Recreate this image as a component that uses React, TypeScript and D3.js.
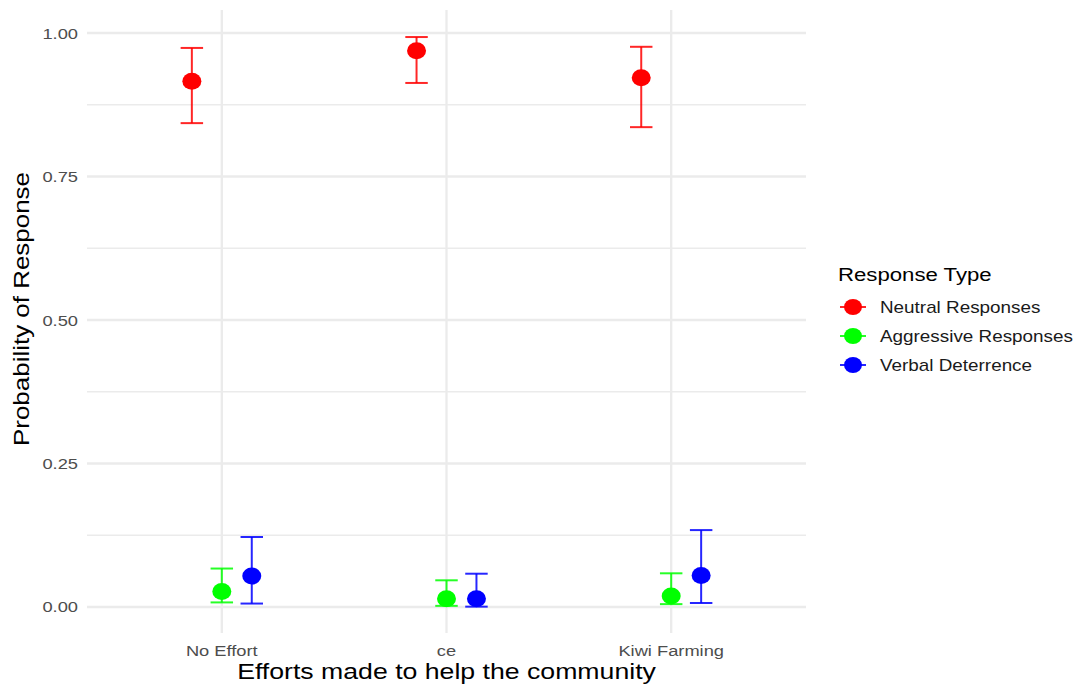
import * as d3 from "d3";

const categories = ["No Effort", "ce", "Kiwi Farming"];
const seriesNames = ["Neutral Responses", "Aggressive Responses", "Verbal Deterrence"];
const seriesColors = ["#ff0000", "#00ff00", "#0000ff"];

// estimated probability, lower and upper bound per category
const neutralMean = [0.916, 0.969, 0.922];
const neutralLow = [0.843, 0.913, 0.836];
const neutralHigh = [0.974, 0.993, 0.976];

const aggressiveMean = [0.027, 0.0145, 0.019];
const aggressiveLow = [0.008, 0.002, 0.005];
const aggressiveHigh = [0.067, 0.0465, 0.0587];

const verbalMean = [0.054, 0.0145, 0.055];
const verbalLow = [0.006, 0.0006, 0.007];
const verbalHigh = [0.122, 0.058, 0.134];

const yTicks = [0, 0.25, 0.5, 0.75, 1];
const yMinorTicks = [0.125, 0.375, 0.625, 0.875];

const W = 1076;
const H = 689;
const FONT = "'Liberation Sans', Arial, Helvetica, sans-serif";
const SX = 1.18; // the source font runs wide

const series = [
  { mean: neutralMean, low: neutralLow, high: neutralHigh },
  { mean: aggressiveMean, low: aggressiveLow, high: aggressiveHigh },
  { mean: verbalMean, low: verbalLow, high: verbalHigh },
];

export default function App() {
  const panel = { left: 87, right: 806, top: 10, bottom: 633 };

  const x = d3
    .scalePoint<string>()
    .domain(categories)
    .range([panel.left, panel.right])
    .padding(0.6);
  const step = x.step();
  const dodge = d3
    .scalePoint<string>()
    .domain(seriesNames)
    .range([-0.4 * step / 3, 0.4 * step / 3]);
  const y = d3.scaleLinear().domain([-0.0453, 1.0401]).range([panel.bottom, panel.top]);
  const capHalf = 0.05 * step;
  const fmt = d3.format(".2f");

  const stretched = (tx: number, ty: number) => `translate(${tx},${ty}) scale(${SX},1)`;

  return (
    <svg
      width={W}
      height={H}
      style={{ position: "absolute", left: 0, top: 0, display: "block", background: "#fff" }}
      fontFamily={FONT}
    >
      {/* grid */}
      {yMinorTicks.map((t) => (
        <line key={"mi" + t} x1={panel.left} x2={panel.right} y1={y(t)} y2={y(t)} stroke="#ebebeb" strokeWidth={1.3} />
      ))}
      {yTicks.map((t) => (
        <line key={"ma" + t} x1={panel.left} x2={panel.right} y1={y(t)} y2={y(t)} stroke="#ebebeb" strokeWidth={2.3} />
      ))}
      {categories.map((c) => (
        <line key={"v" + c} x1={x(c)} x2={x(c)} y1={panel.top} y2={panel.bottom} stroke="#ebebeb" strokeWidth={2.3} />
      ))}

      {/* y tick labels */}
      {yTicks.map((t) => (
        <text
          key={"yt" + t}
          transform={stretched(78, y(t) + 5.5)}
          textAnchor="end"
          fontSize={15.5}
          fill="#4d4d4d"
        >
          {fmt(t)}
        </text>
      ))}

      {/* x tick labels */}
      {categories.map((c) => (
        <text key={"xt" + c} transform={stretched(x(c)!, 656)} textAnchor="middle" fontSize={15.5} fill="#4d4d4d">
          {c}
        </text>
      ))}

      {/* error bars and points */}
      {series.map((s, si) =>
        categories.map((c, ci) => {
          const cx = x(c)! + dodge(seriesNames[si])!;
          const col = seriesColors[si];
          return (
            <g key={si + "-" + ci}>
              <g stroke={col} strokeWidth={2} strokeOpacity={0.85}>
                <line x1={cx} x2={cx} y1={y(s.low[ci])} y2={y(s.high[ci])} />
                <line x1={cx - capHalf} x2={cx + capHalf} y1={y(s.high[ci])} y2={y(s.high[ci])} />
                <line x1={cx - capHalf} x2={cx + capHalf} y1={y(s.low[ci])} y2={y(s.low[ci])} />
              </g>
              <ellipse cx={cx} cy={y(s.mean[ci])} rx={9.5} ry={8.5} fill={col} />
            </g>
          );
        })
      )}

      {/* axis titles */}
      <text transform={stretched((panel.left + panel.right) / 2, 679)} textAnchor="middle" fontSize={22.6} fill="#000">
        Efforts made to help the community
      </text>
      <text
        transform={`translate(29,309) rotate(-90) scale(${SX},1)`}
        textAnchor="middle"
        fontSize={22}
        fill="#000"
      >
        Probability of Response
      </text>

      {/* legend */}
      <text transform={stretched(838, 281)} fontSize={18.8} fill="#000">
        Response Type
      </text>
      {seriesNames.map((n, i) => {
        const ly = 307 + i * 29;
        const col = seriesColors[i];
        return (
          <g key={"lg" + n}>
            <line x1={840} x2={866} y1={ly} y2={ly} stroke={col} strokeWidth={2} strokeOpacity={0.85} />
            <ellipse cx={853} cy={ly} rx={9} ry={8} fill={col} />
            <text transform={stretched(880, ly + 5.5)} fontSize={16} fill="#1a1a1a">
              {n}
            </text>
          </g>
        );
      })}
    </svg>
  );
}
